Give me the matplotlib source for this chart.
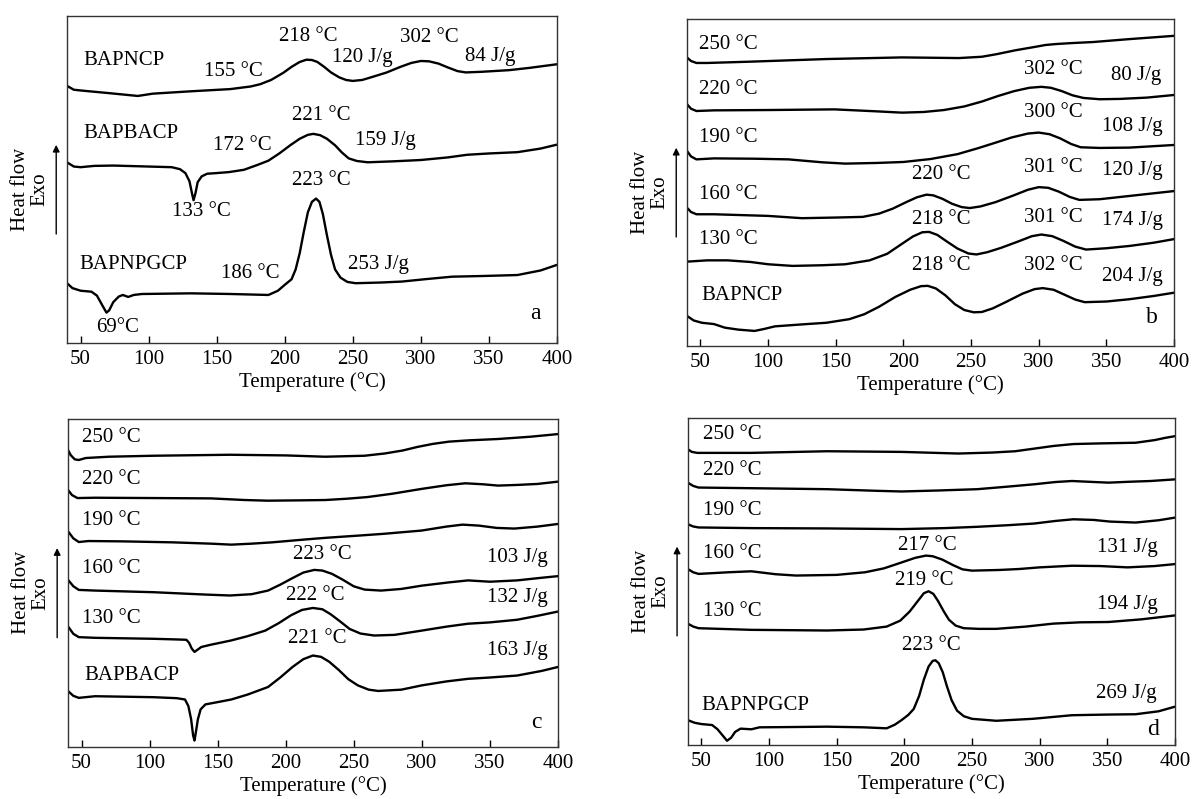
import matplotlib.pyplot as plt

plt.rcParams['font.family'] = 'Liberation Serif'
plt.rcParams['font.size'] = 15

# ---- panel a : three prepolymers ----
a_ncp_T = [40, 45, 52, 70, 92, 103, 130, 160, 175, 182, 190, 199, 205, 211, 216, 220, 224, 229, 234, 240, 245, 250, 257, 265, 275, 285, 293, 300, 306, 313, 320, 327, 333, 345, 365, 380, 400]
a_ncp_y = [0.787, 0.775, 0.772, 0.765, 0.756, 0.763, 0.770, 0.777, 0.785, 0.792, 0.805, 0.827, 0.845, 0.860, 0.867, 0.866, 0.860, 0.845, 0.828, 0.813, 0.805, 0.802, 0.805, 0.815, 0.828, 0.845, 0.857, 0.863, 0.862, 0.855, 0.843, 0.832, 0.828, 0.830, 0.835, 0.842, 0.853]
a_bac_T = [40, 45, 50, 60, 74, 100, 117, 123, 127, 130, 132, 133, 134.5, 136, 139, 143, 150, 159, 170, 180, 188, 196, 204, 211, 217, 221, 226, 231, 237, 242, 247, 253, 261, 280, 300, 320, 334, 350, 371, 388, 400]
a_bac_y = [0.553, 0.540, 0.538, 0.542, 0.543, 0.540, 0.538, 0.532, 0.520, 0.495, 0.455, 0.437, 0.460, 0.492, 0.510, 0.518, 0.520, 0.523, 0.530, 0.545, 0.558, 0.580, 0.605, 0.625, 0.637, 0.640, 0.636, 0.625, 0.605, 0.583, 0.565, 0.557, 0.553, 0.556, 0.560, 0.568, 0.576, 0.580, 0.584, 0.595, 0.607]
a_npg_T = [40, 44, 50, 58, 62, 66, 69, 71, 74, 78, 81, 85, 89, 95, 131, 160, 188, 195, 200, 205, 208, 211, 214, 217, 220, 223, 225.5, 228, 231, 234, 237, 241, 246, 252, 270, 286, 305, 323, 345, 371, 388, 400]
a_npg_y = [0.183, 0.168, 0.160, 0.157, 0.145, 0.115, 0.093, 0.100, 0.125, 0.142, 0.147, 0.141, 0.147, 0.150, 0.152, 0.150, 0.147, 0.160, 0.178, 0.195, 0.225, 0.275, 0.340, 0.400, 0.432, 0.442, 0.432, 0.395, 0.330, 0.270, 0.225, 0.200, 0.187, 0.183, 0.185, 0.188, 0.196, 0.203, 0.205, 0.208, 0.222, 0.239]

# ---- panel b : BAPNCP cured at different temperatures ----
b_250_T = [40, 43, 47, 55, 87, 143, 199, 241, 258, 269, 283, 297, 305, 313, 325, 340, 367, 400]
b_250_y = [0.883, 0.872, 0.866, 0.866, 0.870, 0.878, 0.883, 0.881, 0.885, 0.893, 0.905, 0.915, 0.921, 0.924, 0.927, 0.930, 0.939, 0.949]
b_220_T = [40, 43, 47, 60, 101, 149, 180, 199, 215, 230, 245, 258, 270, 282, 293, 302, 309, 317, 325, 333, 345, 360, 380, 400]
b_220_y = [0.740, 0.726, 0.719, 0.721, 0.722, 0.724, 0.718, 0.714, 0.716, 0.722, 0.733, 0.748, 0.765, 0.780, 0.790, 0.793, 0.790, 0.780, 0.767, 0.759, 0.755, 0.756, 0.760, 0.768]
b_190_T = [40, 43, 47, 60, 90, 115, 140, 157, 180, 200, 220, 240, 255, 268, 280, 292, 300, 308, 316, 324, 331, 345, 367, 400]
b_190_y = [0.597, 0.580, 0.571, 0.574, 0.573, 0.571, 0.562, 0.558, 0.560, 0.563, 0.572, 0.587, 0.605, 0.622, 0.638, 0.650, 0.653, 0.648, 0.635, 0.618, 0.608, 0.606, 0.607, 0.615]
b_160_T = [40, 43, 47, 60, 100, 125, 150, 170, 182, 192, 202, 210, 217, 222, 229, 236, 243, 249, 257, 268, 281, 292, 300, 307, 315, 323, 330, 345, 367, 400]
b_160_y = [0.423, 0.410, 0.403, 0.403, 0.398, 0.391, 0.393, 0.395, 0.405, 0.420, 0.440, 0.455, 0.463, 0.461, 0.450, 0.435, 0.425, 0.422, 0.427, 0.440, 0.460, 0.478, 0.486, 0.484, 0.472, 0.456, 0.447, 0.449, 0.459, 0.474]
b_130_T = [40, 55, 70, 87, 100, 118, 140, 157, 175, 188, 198, 207, 214, 219, 225, 232, 240, 248, 254, 262, 272, 285, 295, 302, 310, 318, 327, 335, 350, 367, 385, 400]
b_130_y = [0.258, 0.262, 0.262, 0.257, 0.250, 0.245, 0.247, 0.250, 0.262, 0.282, 0.310, 0.335, 0.348, 0.349, 0.340, 0.320, 0.298, 0.283, 0.280, 0.287, 0.300, 0.320, 0.336, 0.341, 0.336, 0.322, 0.304, 0.295, 0.299, 0.306, 0.316, 0.327]
b_ncp_T = [40, 45, 51, 60, 68, 78, 90, 97, 105, 125, 143, 160, 171, 182, 194, 205, 213, 218, 224, 231, 238, 245, 252, 258, 266, 276, 288, 297, 303, 311, 319, 327, 334, 350, 367, 385, 400]
b_ncp_y = [0.092, 0.078, 0.071, 0.067, 0.056, 0.050, 0.046, 0.052, 0.060, 0.066, 0.071, 0.082, 0.097, 0.120, 0.150, 0.172, 0.183, 0.184, 0.176, 0.155, 0.128, 0.110, 0.103, 0.104, 0.115, 0.135, 0.160, 0.174, 0.177, 0.172, 0.157, 0.142, 0.134, 0.136, 0.143, 0.153, 0.163]

# ---- panel c : BAPBACP cured at different temperatures ----
c_250_T = [40, 42, 45, 48, 53, 70, 103, 159, 200, 229, 258, 273, 286, 297, 308, 320, 335, 356, 380, 400]
c_250_y = [0.906, 0.890, 0.877, 0.875, 0.881, 0.885, 0.888, 0.891, 0.889, 0.885, 0.888, 0.895, 0.904, 0.915, 0.924, 0.931, 0.935, 0.939, 0.946, 0.954]
c_220_T = [40, 43, 47, 60, 103, 145, 170, 187, 210, 229, 245, 260, 278, 300, 318, 332, 345, 356, 370, 385, 400]
c_220_y = [0.784, 0.768, 0.759, 0.760, 0.759, 0.758, 0.753, 0.751, 0.752, 0.753, 0.757, 0.762, 0.772, 0.787, 0.798, 0.804, 0.801, 0.797, 0.799, 0.802, 0.809]
c_190_T = [40, 44, 48, 55, 80, 117, 145, 160, 175, 190, 215, 230, 255, 272, 300, 318, 330, 342, 355, 368, 385, 400]
c_190_y = [0.658, 0.636, 0.625, 0.628, 0.627, 0.624, 0.620, 0.617, 0.620, 0.624, 0.633, 0.638, 0.645, 0.650, 0.660, 0.672, 0.678, 0.675, 0.668, 0.666, 0.672, 0.680]
c_160_T = [40, 44, 48, 60, 103, 140, 159, 175, 187, 196, 205, 213, 221, 227, 234, 242, 250, 258, 270, 285, 300, 320, 334, 350, 370, 388, 400]
c_160_y = [0.510, 0.490, 0.479, 0.477, 0.472, 0.465, 0.462, 0.466, 0.477, 0.495, 0.515, 0.532, 0.540, 0.538, 0.528, 0.510, 0.490, 0.480, 0.477, 0.482, 0.492, 0.502, 0.508, 0.504, 0.508, 0.516, 0.521]
c_130_T = [40, 44, 48, 60, 103, 120, 127, 129, 131, 133, 135, 138, 145, 152, 160, 172, 185, 195, 204, 212, 220, 227, 233, 240, 247, 255, 265, 280, 300, 318, 334, 350, 370, 385, 400]
c_130_y = [0.368, 0.345, 0.335, 0.333, 0.330, 0.328, 0.327, 0.318, 0.300, 0.290, 0.296, 0.305, 0.312, 0.318, 0.325, 0.338, 0.355, 0.378, 0.402, 0.418, 0.424, 0.420, 0.405, 0.383, 0.360, 0.346, 0.340, 0.342, 0.355, 0.367, 0.376, 0.380, 0.388, 0.400, 0.413]
c_bac_T = [40, 44, 48, 60, 103, 120, 126, 128.5, 130.5, 132, 133, 134, 135.5, 137.5, 141, 150, 160, 172, 187, 196, 205, 213, 220, 226, 232, 239, 246, 253, 261, 268, 285, 300, 318, 334, 350, 370, 388, 400]
c_bac_y = [0.171, 0.156, 0.150, 0.155, 0.152, 0.149, 0.145, 0.125, 0.085, 0.035, 0.020, 0.045, 0.085, 0.115, 0.130, 0.137, 0.145, 0.160, 0.183, 0.212, 0.244, 0.268, 0.279, 0.275, 0.260, 0.235, 0.207, 0.188, 0.175, 0.171, 0.175, 0.188, 0.200, 0.208, 0.212, 0.218, 0.232, 0.244]

# ---- panel d : BAPNPGCP cured at different temperatures ----
d_250_T = [40, 43, 47, 87, 143, 198, 240, 265, 282, 296, 310, 325, 345, 371, 385, 393, 400]
d_250_y = [0.904, 0.896, 0.893, 0.893, 0.898, 0.896, 0.891, 0.894, 0.898, 0.906, 0.914, 0.920, 0.922, 0.924, 0.932, 0.939, 0.944]
d_220_T = [40, 44, 48, 87, 143, 180, 198, 225, 254, 277, 296, 312, 324, 340, 351, 368, 382, 400]
d_220_y = [0.802, 0.792, 0.787, 0.785, 0.782, 0.777, 0.775, 0.778, 0.782, 0.790, 0.797, 0.804, 0.807, 0.804, 0.802, 0.805, 0.807, 0.812]
d_190_T = [40, 44, 48, 87, 143, 198, 230, 254, 277, 296, 312, 325, 340, 352, 371, 388, 400]
d_190_y = [0.675, 0.668, 0.665, 0.663, 0.662, 0.660, 0.663, 0.667, 0.672, 0.677, 0.685, 0.690, 0.688, 0.683, 0.680, 0.687, 0.695]
d_160_T = [40, 44, 48, 70, 87, 105, 120, 150, 171, 185, 198, 208, 216, 221, 228, 236, 243, 250, 270, 285, 300, 324, 345, 365, 385, 400]
d_160_y = [0.538, 0.528, 0.523, 0.528, 0.531, 0.522, 0.518, 0.520, 0.528, 0.540, 0.558, 0.572, 0.579, 0.577, 0.567, 0.550, 0.537, 0.533, 0.535, 0.538, 0.543, 0.548, 0.547, 0.543, 0.547, 0.553]
d_130_T = [40, 44, 48, 87, 143, 170, 187, 197, 204, 210, 214.5, 218, 221.5, 225, 229, 233, 238, 244, 255, 268, 290, 310, 330, 351, 375, 400]
d_130_y = [0.371, 0.362, 0.357, 0.352, 0.350, 0.353, 0.362, 0.380, 0.408, 0.440, 0.464, 0.470, 0.462, 0.440, 0.410, 0.383, 0.365, 0.357, 0.355, 0.355, 0.362, 0.371, 0.375, 0.376, 0.384, 0.396]
d_npg_T = [40, 45, 50, 58, 62, 66, 69, 72, 75, 79, 83, 87, 93, 120, 143, 170, 187, 193, 198, 203, 207, 211, 214.5, 218, 221, 223, 225.5, 228.5, 231.5, 235, 239, 244, 250, 268, 295, 324, 350, 371, 388, 400]
d_npg_y = [0.076, 0.068, 0.064, 0.061, 0.048, 0.028, 0.013, 0.022, 0.040, 0.050, 0.049, 0.048, 0.054, 0.055, 0.056, 0.054, 0.051, 0.062, 0.076, 0.092, 0.110, 0.150, 0.200, 0.240, 0.257, 0.259, 0.250, 0.222, 0.180, 0.137, 0.105, 0.088, 0.080, 0.074, 0.080, 0.091, 0.093, 0.094, 0.103, 0.117]

# labels: (text, T, y, ha)
a_labels = [('BAPNCP', 52, 0.863, 'left'), ('155 °C', 162, 0.832, 'center'), ('218 °C', 217, 0.939, 'center'),
            ('120 J/g', 257, 0.873, 'center'), ('302 °C', 306, 0.934, 'center'), ('84 J/g', 351, 0.878, 'center'),
            ('BAPBACP', 52, 0.640, 'left'), ('172 °C', 169, 0.604, 'center'), ('221 °C', 227, 0.695, 'center'),
            ('159 J/g', 274, 0.619, 'center'), ('133 °C', 139, 0.401, 'center'), ('223 °C', 227, 0.497, 'center'),
            ('BAPNPGCP', 49, 0.239, 'left'), ('186 °C', 175, 0.213, 'center'), ('253 J/g', 269, 0.239, 'center'),
            ('69°C', 77, 0.046, 'center')]
b_labels = [('250 °C', 49, 0.923, 'left'), ('302 °C', 311, 0.847, 'center'), ('80 J/g', 372, 0.827, 'center'),
            ('220 °C', 49, 0.786, 'left'), ('300 °C', 311, 0.714, 'center'), ('108 J/g', 369, 0.673, 'center'),
            ('190 °C', 49, 0.638, 'left'), ('220 °C', 228, 0.526, 'center'), ('301 °C', 311, 0.546, 'center'),
            ('120 J/g', 369, 0.536, 'center'), ('160 °C', 49, 0.464, 'left'), ('218 °C', 228, 0.388, 'center'),
            ('301 °C', 311, 0.393, 'center'), ('174 J/g', 369, 0.383, 'center'), ('130 °C', 49, 0.327, 'left'),
            ('218 °C', 228, 0.245, 'center'), ('302 °C', 311, 0.245, 'center'), ('204 J/g', 369, 0.214, 'center'),
            ('BAPNCP', 51, 0.153, 'left')]
c_labels = [('250 °C', 50, 0.944, 'left'), ('220 °C', 50, 0.817, 'left'), ('190 °C', 50, 0.690, 'left'),
            ('223 °C', 227, 0.587, 'center'), ('103 J/g', 370, 0.579, 'center'), ('160 °C', 50, 0.543, 'left'),
            ('222 °C', 222, 0.462, 'center'), ('132 J/g', 370, 0.457, 'center'), ('130 °C', 50, 0.391, 'left'),
            ('221 °C', 223, 0.330, 'center'), ('163 J/g', 370, 0.294, 'center'), ('BAPBACP', 52, 0.218, 'left')]
d_labels = [('250 °C', 51, 0.949, 'left'), ('220 °C', 51, 0.840, 'left'), ('190 °C', 51, 0.718, 'left'),
            ('217 °C', 217, 0.609, 'center'), ('131 J/g', 365, 0.604, 'center'), ('160 °C', 51, 0.584, 'left'),
            ('219 °C', 215, 0.503, 'center'), ('194 J/g', 365, 0.431, 'center'), ('130 °C', 51, 0.409, 'left'),
            ('223 °C', 220, 0.305, 'center'), ('269 J/g', 364, 0.157, 'center'), ('BAPNPGCP', 50, 0.122, 'left')]

panels = [
    ([0.0562, 0.5707, 0.411, 0.409], [(a_ncp_T, a_ncp_y), (a_bac_T, a_bac_y), (a_npg_T, a_npg_y)], a_labels, 'a', 0.091),
    ([0.5763, 0.567, 0.4086, 0.409], [(b_250_T, b_250_y), (b_220_T, b_220_y), (b_190_T, b_190_y),
                                      (b_160_T, b_160_y), (b_130_T, b_130_y), (b_ncp_T, b_ncp_y)], b_labels, 'b', 0.087),
    ([0.057, 0.065, 0.411, 0.4106], [(c_250_T, c_250_y), (c_220_T, c_220_y), (c_190_T, c_190_y),
                                     (c_160_T, c_160_y), (c_130_T, c_130_y), (c_bac_T, c_bac_y)], c_labels, 'c', 0.076),
    ([0.577, 0.0676, 0.4086, 0.4094], [(d_250_T, d_250_y), (d_220_T, d_220_y), (d_190_T, d_190_y),
                                       (d_160_T, d_160_y), (d_130_T, d_130_y), (d_npg_T, d_npg_y)], d_labels, 'd', 0.046),
]

fig = plt.figure(figsize=(11.92, 7.99), dpi=100)

for rect, curves, labels, letter, ly in panels:
    ax = fig.add_axes(rect)
    for T, y in curves:
        ax.plot(T, y, color='black', lw=1.7, solid_joinstyle='round', solid_capstyle='round')
    for txt, tx, ty, ha in labels:
        ax.text(tx, ty, txt, ha=ha, va='center')
    ax.text(384, ly, letter, ha='center', va='center', fontsize=17)
    ax.set_xlim(40, 400)
    ax.set_ylim(0, 1)
    ax.set_xticks([50, 100, 150, 200, 250, 300, 350, 400])
    ax.set_yticks([])
    ax.tick_params(axis='x', direction='in', length=5, width=1, pad=5)
    for sp in ax.spines.values():
        sp.set_linewidth(1.0)
        sp.set_color('#333333')
    ax.set_xlabel('Temperature (°C)', labelpad=2)
    # Heat flow / Exo label with arrow
    ax.text(-0.095, 0.47, 'Heat flow', rotation=90, ha='center', va='center', transform=ax.transAxes)
    ax.text(-0.055, 0.47, 'Exo', rotation=90, ha='center', va='center', transform=ax.transAxes)
    ax.annotate('', xy=(-0.022, 0.615), xytext=(-0.022, 0.325), xycoords='axes fraction',
                annotation_clip=False,
                arrowprops=dict(arrowstyle='-|>', color='black', lw=1.0, mutation_scale=10))

fig.savefig('out.png', dpi=100)
